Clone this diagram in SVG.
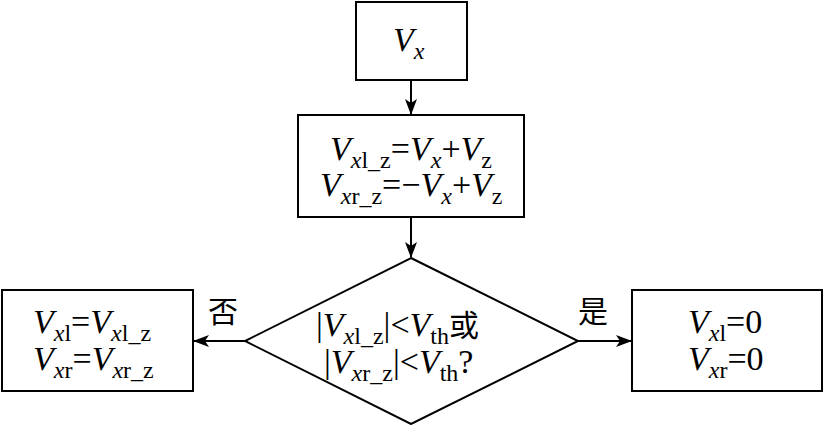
<svg xmlns="http://www.w3.org/2000/svg" width="826" height="425" viewBox="0 0 826 425">
<style>
.b{fill:#fff;stroke:#000;stroke-width:2}
.c{stroke:#000;stroke-width:2;fill:none}
text{font-family:"Liberation Serif","Noto Sans CJK SC",serif;font-size:34px;fill:#000}
.i{font-style:italic}
.s{font-size:24px}
.z{font-family:"Noto Sans CJK SC",sans-serif;font-size:30px}
</style>
<defs><marker id="a" markerWidth="16" markerHeight="12" refX="15" refY="6" orient="auto" markerUnits="userSpaceOnUse"><path d="M0,0L16,6L0,12L4,6z"/></marker></defs>
<rect width="826" height="425" fill="#fff"/>
<g id="n1"><rect class="b" x="356" y="2" width="111" height="78"/>
<text x="393" y="51"><tspan class="i">V</tspan><tspan class="i s" dy="8">x</tspan></text></g>
<g id="n2"><rect class="b" x="298" y="115" width="226" height="102"/>
<text x="330" y="160"><tspan class="i">V</tspan><tspan class="s" dy="8"><tspan class="i">x</tspan>l_z</tspan><tspan dy="-8">=</tspan><tspan class="i">V</tspan><tspan class="i s" dy="8">x</tspan><tspan dy="-8">+</tspan><tspan class="i">V</tspan><tspan class="s" dy="8">z</tspan></text>
<text x="320" y="196"><tspan class="i">V</tspan><tspan class="s" dy="8"><tspan class="i">x</tspan>r_z</tspan><tspan dy="-8">=−</tspan><tspan class="i">V</tspan><tspan class="i s" dy="8">x</tspan><tspan dy="-8">+</tspan><tspan class="i">V</tspan><tspan class="s" dy="8">z</tspan></text></g>
<g id="n3"><polygon class="b" points="411,258 578,341 411,424 245,341"/>
<text x="316" y="336">|<tspan class="i">V</tspan><tspan class="s" dy="8"><tspan class="i">x</tspan>l_z</tspan><tspan dy="-8">|&lt;</tspan><tspan class="i">V</tspan><tspan class="s" dy="8">th</tspan><tspan class="z" dy="-8">或</tspan></text>
<text x="324" y="373">|<tspan class="i">V</tspan><tspan class="s" dy="8"><tspan class="i">x</tspan>r_z</tspan><tspan dy="-8">|&lt;</tspan><tspan class="i">V</tspan><tspan class="s" dy="8">th</tspan><tspan dy="-8">?</tspan></text></g>
<g id="n4"><rect class="b" x="2" y="290" width="191" height="101"/>
<text x="33" y="333"><tspan class="i">V</tspan><tspan class="s" dy="8"><tspan class="i">x</tspan>l</tspan><tspan dy="-8">=</tspan><tspan class="i">V</tspan><tspan class="s" dy="8"><tspan class="i">x</tspan>l_z</tspan></text>
<text x="33" y="370"><tspan class="i">V</tspan><tspan class="s" dy="8"><tspan class="i">x</tspan>r</tspan><tspan dy="-8">=</tspan><tspan class="i">V</tspan><tspan class="s" dy="8"><tspan class="i">x</tspan>r_z</tspan></text></g>
<g id="n5"><rect class="b" x="632" y="290" width="190" height="101"/>
<text x="688" y="333"><tspan class="i">V</tspan><tspan class="s" dy="8"><tspan class="i">x</tspan>l</tspan><tspan dy="-8">=0</tspan></text>
<text x="688" y="370"><tspan class="i">V</tspan><tspan class="s" dy="8"><tspan class="i">x</tspan>r</tspan><tspan dy="-8">=0</tspan></text></g>
<g id="connectors">
<line class="c" x1="411" y1="80" x2="411" y2="114" marker-end="url(#a)"/>
<line class="c" x1="411" y1="217" x2="411" y2="257" marker-end="url(#a)"/>
<line class="c" x1="245" y1="341" x2="194" y2="341" marker-end="url(#a)"/>
<line class="c" x1="578" y1="341" x2="631" y2="341" marker-end="url(#a)"/>
<text class="z" x="208" y="322">否</text>
<text class="z" x="578" y="322">是</text>
</g>
</svg>
